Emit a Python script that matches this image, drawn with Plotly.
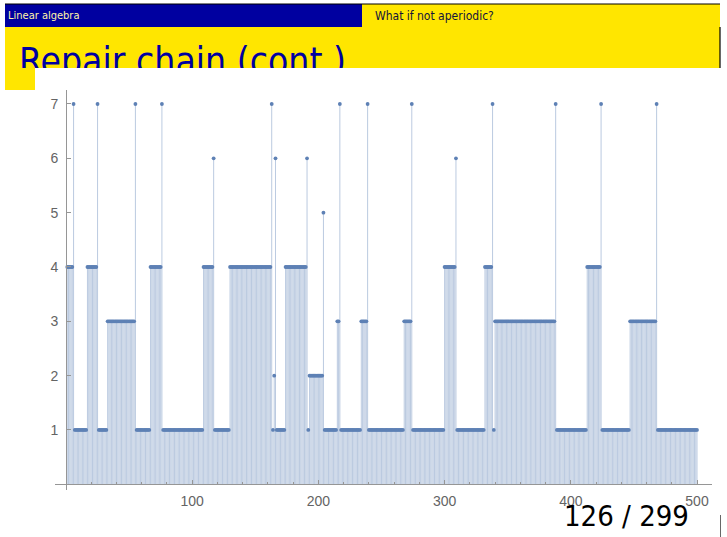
import plotly.graph_objects as go

# Repair chain: sequence of states, stored as runs (state, number of steps)
run_states = [4, 7, 1, 4, 7, 1, 3, 7, 1, 4, 7, 1, 4, 6, 1, 4, 7, 1, 2, 6,
              1, 4, 6, 1, 2, 5, 1, 3, 7, 1, 3, 7, 1, 3, 7, 1, 4, 6, 1, 4,
              7, 1, 3, 7, 1, 4, 7, 1, 3, 7, 1]
run_lengths = [5, 1, 10, 8, 1, 7, 22, 1, 11, 9, 1, 32, 8, 1, 12, 33, 1, 1, 1, 1,
               7, 17, 1, 1, 11, 1, 10, 2, 1, 16, 5, 1, 28, 6, 1, 25, 9, 1, 22, 6,
               1, 1, 48, 1, 24, 11, 1, 22, 21, 1, 32]

x_ticks = [100, 200, 300, 400, 500]
y_ticks = [1, 2, 3, 4, 5, 6, 7]

header_left = "Linear algebra"
header_right = "What if not aperiodic?"
slide_title = "Repair chain (cont.)"
page_label = "126 / 299"

steps, states = [], []
n = 1
for s, L in zip(run_states, run_lengths):
    for _ in range(L):
        steps.append(n)
        states.append(s)
        n += 1

W, H = 727, 537
BLUE = "rgb(0,0,160)"
YELLOW = "rgb(255,230,0)"
POINT = "rgb(94,129,181)"
SLIDE_FONT = "DejaVu Sans Condensed, Liberation Sans Narrow, Liberation Sans, sans-serif"


def px(x):
    return x / W


def py(y):
    return 1 - y / H


# stems from the axis up to each point
stem_x, stem_y = [], []
for x, y in zip(steps, states):
    stem_x += [x, x, None]
    stem_y += [0, y, None]

fig = go.Figure()
fig.add_trace(go.Scatter(x=stem_x, y=stem_y, mode="lines",
                         line=dict(color="rgba(94,129,181,0.42)", width=1),
                         hoverinfo="skip", showlegend=False))
fig.add_trace(go.Scatter(x=steps, y=states, mode="markers",
                         marker=dict(color=POINT, size=3.8, line=dict(width=0)),
                         showlegend=False))

# frame title on a hidden helper axis so the plot panel clips it
fig.add_trace(go.Scatter(x=[19], y=[65], mode="text", text=[slide_title],
                         textposition="middle right",
                         textfont=dict(family=SLIDE_FONT, size=37, color=BLUE),
                         cliponaxis=True, hoverinfo="skip", showlegend=False,
                         xaxis="x2", yaxis="y2"))

# plot placement (pixels): x=0 at 66, 1.262 px/step; y=0 at 484.3, 54.33 px/unit
x_left_px, x_right_px = 55, 712
y_top_px, y_bot_px = 90, 490
x0_px, xs = 66, 1.262
y0_px, ys = 484.3, 54.33
xr = [(x_left_px - x0_px) / xs, (x_right_px - x0_px) / xs]
yr = [(y0_px - y_bot_px) / ys, (y0_px - y_top_px) / ys]

axis_gray = "rgb(150,150,150)"
tick_font = dict(family="Liberation Sans, Arial, sans-serif", size=14, color="rgb(100,100,100)")

shapes = [
    # header bars
    dict(type="rect", xref="paper", yref="paper", x0=px(5), x1=px(362), y0=py(27), y1=py(4),
         fillcolor=BLUE, line_width=0, layer="below"),
    dict(type="rect", xref="paper", yref="paper", x0=px(362), x1=px(720), y0=py(27), y1=py(4),
         fillcolor=YELLOW, line_width=0, layer="below"),
    dict(type="line", xref="paper", yref="paper", x0=px(5), x1=px(720), y0=py(4), y1=py(4),
         line=dict(color="black", width=1), layer="below"),
    # title band
    dict(type="rect", xref="paper", yref="paper", x0=px(5), x1=px(720), y0=py(90), y1=py(27),
         fillcolor=YELLOW, line_width=0, layer="below"),
    dict(type="line", xref="paper", yref="paper", x0=px(720), x1=px(720), y0=py(68), y1=py(27),
         line=dict(color="black", width=1.2), layer="below"),
    dict(type="line", xref="paper", yref="paper", x0=px(720), x1=px(720), y0=py(537), y1=py(515),
         line=dict(color="black", width=1.2), layer="below"),
    # white plot panel
    dict(type="rect", xref="paper", yref="paper", x0=px(35), x1=px(720), y0=0, y1=py(68),
         fillcolor="white", line_width=0, layer="below"),
]

annotations = [
    dict(text=header_left, xref="paper", yref="paper", x=px(6), y=py(16),
         xanchor="left", yanchor="middle", showarrow=False,
         font=dict(family=SLIDE_FONT, size=11, color="rgb(255,244,170)")),
    dict(text=header_right, xref="paper", yref="paper", x=px(373), y=py(16),
         xanchor="left", yanchor="middle", showarrow=False,
         font=dict(family=SLIDE_FONT, size=12, color="rgb(20,20,60)")),
    dict(text=page_label, xref="paper", yref="paper", x=px(626), y=py(516),
         xanchor="center", yanchor="middle", showarrow=False,
         font=dict(family=SLIDE_FONT, size=29, color="black")),
]

fig.update_layout(
    width=W, height=H, margin=dict(l=0, r=0, t=0, b=0),
    paper_bgcolor="white", plot_bgcolor="rgba(0,0,0,0)",
    shapes=shapes, annotations=annotations,
    xaxis=dict(domain=[px(x_left_px), px(x_right_px)], range=xr,
               anchor="free", position=py(y0_px),
               showgrid=False, zeroline=False, showline=True, linecolor=axis_gray, linewidth=1,
               tickvals=x_ticks, ticks="inside", ticklen=4, tickcolor=axis_gray,
               ticklabelstandoff=4, tickfont=tick_font,
               minor=dict(dtick=20, tick0=0, ticks="inside", ticklen=2.5, tickcolor=axis_gray)),
    yaxis=dict(domain=[py(y_bot_px), py(y_top_px)], range=yr,
               anchor="free", position=px(x0_px),
               showgrid=False, zeroline=False, showline=True, linecolor=axis_gray, linewidth=1,
               tickvals=y_ticks, ticks="inside", ticklen=4, tickcolor=axis_gray,
               ticklabelstandoff=5, tickfont=tick_font),
    xaxis2=dict(domain=[0, 1], range=[0, W], visible=False, anchor="y2"),
    yaxis2=dict(domain=[py(68), 1], range=[68, 0], visible=False, anchor="x2"),
)

fig.write_html("out.html")
